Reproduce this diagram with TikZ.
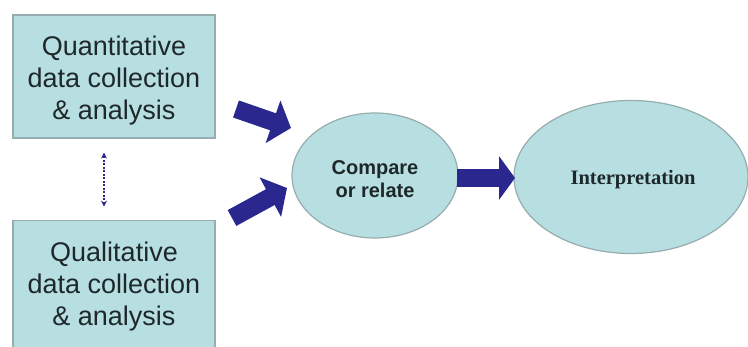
\documentclass[tikz,border=0pt]{standalone}
\usepackage{fontspec}
\setmainfont{Liberation Sans}
\newfontfamily\serifb{Liberation Serif}
\usetikzlibrary{arrows.meta,shapes.geometric}
\definecolor{boxfill}{RGB}{183,223,226}
\definecolor{boxline}{RGB}{150,172,174}
\definecolor{fatblue}{RGB}{42,40,142}
\definecolor{txt}{RGB}{30,40,42}
\begin{document}
\begin{tikzpicture}[x=1pt,y=-1pt,
  databox/.style={draw=boxline,fill=boxfill,line width=1.2pt,minimum width=202pt,inner sep=0pt},
  boxtext/.style={font=\fontsize{27}{32}\selectfont,text=txt,align=center,inner sep=0pt},
  oval/.style={ellipse,draw=boxline,fill=boxfill,line width=1.2pt,inner sep=0pt,text=txt,align=center},
  fat/.style={draw=fatblue,line width=18pt,-{Triangle[length=19pt,width=44pt]},fatblue}]
\useasboundingbox (0,0) rectangle (748,347);
\node[databox,minimum height=123pt] (quan) at (114,76.5) {};
\node[boxtext] (quant) at (114,81) {Quantitative\\data collection\\\& analysis};
\node[databox,minimum height=132pt,anchor=north] (qual) at (114,220) {};
\node[boxtext] (qualt) at (114,287) {Qualitative\\data collection\\\& analysis};
\node[oval,minimum width=166pt,minimum height=125pt] (cmp) at (375,175.5) {};
\node[font=\bfseries\fontsize{20}{23}\selectfont,text=txt,align=center] (cmpt) at (375,179) {Compare\\or relate};
\node[oval,minimum width=234pt,minimum height=153pt] (interp) at (631,177) {};
\node[font=\serifb\bfseries\fontsize{20.5}{24}\selectfont,text=txt] (interpt) at (633,180) {Interpretation};
\coordinate (t1) at (236,109);
\coordinate (h1) at (291,128);
\coordinate (t2) at (232,218);
\coordinate (h2) at (287,188);
\coordinate (t3) at (457,178);
\coordinate (h3) at (515,178);
\draw[fat] (t1) -- (h1);
\draw[fat] (t2) -- (h2);
\draw[fat,-{Triangle[length=16pt,width=43pt]}] (t3) -- (h3);
\draw[fatblue,dash pattern=on 2pt off 1.5pt,line width=1.2pt,{Stealth[length=6pt,width=6pt]}-{Stealth[length=6pt,width=6pt]}] (quan.south)++(-10,14) coordinate (d1) -- ++(0,54) coordinate (d2);
\end{tikzpicture}
\end{document}
